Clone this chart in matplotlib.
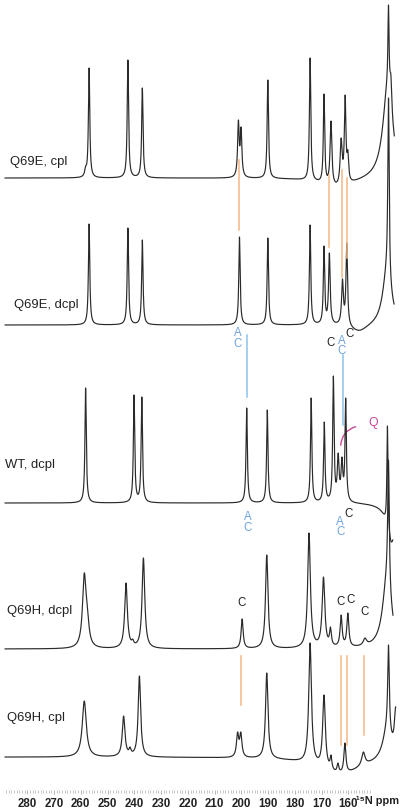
import numpy as np
import matplotlib.pyplot as plt
from matplotlib.patches import FancyArrowPatch

plt.rcParams['font.family'] = ['Liberation Sans', 'DejaVu Sans']

# ---- peak lists ----
# position (ppm), height above baseline (px), FWHM (ppm)
# broad_* = wide components of the baseline (rise into the big peak, dips)

labels = ['Q69E, cpl', 'Q69E, dcpl', 'WT, dcpl', 'Q69H, dcpl', 'Q69H, cpl']
baselines = [178, 325, 503, 649, 757]          # pixel rows of the baselines
ends = [142.8, 142.9, 143.4, 143.3, 142.3]

q69e_cpl_pos = [258.2, 256.9, 242.4, 237.0, 201.1, 200.1, 190.1, 174.3, 169.1, 166.5, 162.7, 161.2, 160.2, 145.0, 144.1]
q69e_cpl_hgt = [12, 110, 118, 90, 58, 51, 98, 120, 84, 57, 40, 83, 28, 173, 103]
q69e_cpl_wid = [0.8, 0.6, 0.6, 0.6, 0.7, 0.7, 0.6, 0.6, 0.6, 0.8, 0.9, 0.7, 0.7, 0.5, 0.8]
q69e_cpl_broad = ([145.3, 164.0], [90, -12], [4.4, 14])

q69e_dcpl_pos = [256.9, 242.4, 237.0, 200.7, 190.1, 174.3, 169.1, 167.1, 162.2, 160.6, 145.0]
q69e_dcpl_hgt = [101, 97, 85, 88, 87, 100, 79, 72, 46, 82, 227]
q69e_dcpl_wid = [0.6, 0.6, 0.6, 0.6, 0.6, 0.6, 0.6, 0.7, 0.8, 0.7, 0.6]
q69e_dcpl_broad = ([145.6, 156.0], [50, -8], [4.0, 8])

wt_dcpl_pos = [258.2, 240.1, 237.2, 198.0, 190.3, 173.9, 169.0, 165.6, 163.8, 162.4, 161.0, 145.4]
wt_dcpl_hgt = [115, 108, 106, 95, 93, 105, 81, 127, 50, 46, 105, 77]
wt_dcpl_wid = [0.6, 0.6, 0.6, 0.6, 0.6, 0.6, 0.6, 0.6, 0.8, 0.8, 0.6, 0.5]
wt_dcpl_broad = ([144.0], [-42], [4.0])

q69h_dcpl_pos = [258.7, 257.6, 243.1, 240.6, 236.6, 199.7, 190.5, 174.7, 169.3, 166.7, 162.7, 160.2, 153.8, 145.0]
q69h_dcpl_hgt = [76, 45, 66, 10, 91, 30, 94, 116, 72, 22, 34, 36, 11, 189]
q69h_dcpl_wid = [1.6, 1.5, 1.2, 0.9, 1.2, 0.9, 1.1, 1.2, 1.2, 0.8, 0.9, 0.9, 1.5, 0.7]
q69h_dcpl_broad = ([145.6], [65], [4.0])

q69h_cpl_pos = [258.7, 244.0, 241.6, 238.1, 201.4, 200.2, 190.5, 174.3, 169.1, 166.5, 163.9, 161.3, 154.4, 145.0, 142.3]
q69h_cpl_hgt = [56, 41, 10, 81, 25, 25, 84, 114, 62, 2, -6, 14, 5, 112, 50]
q69h_cpl_wid = [1.8, 1.2, 0.9, 1.1, 1.0, 1.0, 1.1, 1.2, 1.2, 0.8, 0.8, 0.9, 1.5, 0.7, 1.2]
q69h_cpl_broad = ([163.0, 145.5], [-18, 30], [20, 4.0])

spectra = [
    (q69e_cpl_pos, q69e_cpl_hgt, q69e_cpl_wid, q69e_cpl_broad),
    (q69e_dcpl_pos, q69e_dcpl_hgt, q69e_dcpl_wid, q69e_dcpl_broad),
    (wt_dcpl_pos, wt_dcpl_hgt, wt_dcpl_wid, wt_dcpl_broad),
    (q69h_dcpl_pos, q69h_dcpl_hgt, q69h_dcpl_wid, q69h_dcpl_broad),
    (q69h_cpl_pos, q69h_cpl_hgt, q69h_cpl_wid, q69h_cpl_broad),
]

# spectrum label: left edge (ppm), pixel row
label_ppm = [286.6, 285.0, 288.4, 287.4, 287.4]
label_row = [162, 305, 465, 611, 718]

# assignment letters (A over C pairs are one text)
ann_text = ['A\nC', 'A\nC', 'C', 'C',
            'A\nC', 'A\nC', 'C',
            'C', 'C', 'C', 'C']
ann_ppm = [201.5, 162.5, 166.8, 159.6,
           197.5, 163.1, 160.1,
           199.8, 163.0, 159.1, 154.0]
ann_row = [338.5, 346, 343, 334,
           522.5, 527, 514,
           603, 602, 600, 612]
ann_col = ['blue', 'blue', 'black', 'black',
           'blue', 'blue', 'black',
           'black', 'black', 'black', 'black']

# connecting lines: ppm, top row, bottom row
orange_ppm = [200.9, 167.1, 162.2, 160.6, 200.2, 162.7, 160.6, 154.0]
orange_top = [160, 175, 170, 178, 656, 656, 656, 656]
orange_bot = [230, 247, 277, 258, 705, 745, 745, 735]
blue_ppm = [198.0, 162.1]
blue_top = [335, 355]
blue_bot = [397, 425]

colors = {'blue': '#6fa3dc', 'black': '#222222'}
ORANGE = '#f5b682'
LBLUE = '#8cc4ea'
MAGENTA = '#c9489a'


def lor(x, x0, w):
    return 1.0 / (1.0 + ((x - x0) / (w / 2.0)) ** 2)


def row(r):
    # pixel row (from top) -> data y
    return 790 - r


fig = plt.figure(figsize=(4.0, 8.11), dpi=100)
ax = fig.add_axes([0, 21 / 811, 1, 790 / 811])
ax.set_xlim(290.2, 140.7)
ax.set_ylim(0, 790)

for (pos, hgt, wid, broad), base, end, lab, lx, ly in zip(
        spectra, baselines, ends, labels, label_ppm, label_row):
    x = np.arange(288.3, end, -0.02)
    pos = np.array(pos)
    wid = np.array(wid)
    bpos, bamp, bwid = broad

    def broad_at(xx):
        return sum(a * lor(xx, p, w) for p, a, w in zip(bpos, bamp, bwid))

    # amplitudes so that the summed curve hits the read heights
    M = lor(pos[:, None], pos[None, :], wid[None, :])
    amps = np.linalg.solve(M, np.array(hgt) - broad_at(pos))
    y = broad_at(x) + (amps[None, :] * lor(x[:, None], pos[None, :], wid[None, :])).sum(axis=1)

    ax.plot(x, row(base) + y, color='#2a2a2a', lw=0.85)
    ax.text(lx, row(ly), lab, fontsize=9.4, color='#222222', ha='left', va='center')

for p, t, b in zip(orange_ppm, orange_top, orange_bot):
    ax.plot([p, p], [row(t), row(b)], color=ORANGE, lw=1.1)
for p, t, b in zip(blue_ppm, blue_top, blue_bot):
    ax.plot([p, p], [row(t), row(b)], color=LBLUE, lw=1.1)

for t, p, r, c in zip(ann_text, ann_ppm, ann_row, ann_col):
    ax.text(p, row(r), t, fontsize=8.3, color=colors[c], ha='center', va='center',
            linespacing=0.85)

ax.text(150.8, row(423), 'Q', fontsize=8.8, color=MAGENTA, ha='center', va='center')
arc = FancyArrowPatch((162.9, row(448)), (156.3, row(426)), arrowstyle='-',
                      connectionstyle='arc3,rad=-0.4', color=MAGENTA, lw=1.0)
ax.add_patch(arc)

# axis
for s in ax.spines.values():
    s.set_visible(False)
ax.set_yticks([])
ax.set_xticks(np.arange(160, 290, 10))
ax.set_xticks(np.arange(152, 289, 1), minor=True)
ax.set_xticklabels([str(v) for v in np.arange(160, 290, 10)],
                   fontsize=8.3, fontweight='bold', color='#222222')
ax.tick_params(axis='x', which='major', length=3, width=0.6, color='#aaaaaa', pad=3)
ax.tick_params(axis='x', which='minor', length=2, width=0.6, color='#bbbbbb')

fig.text(399.5 / 400, 1 - 801 / 811, '\u00b9\u2075N ppm', fontsize=7.9, fontweight='bold',
         color='#222222', ha='right', va='center')

fig.savefig('out.png', dpi=100)
